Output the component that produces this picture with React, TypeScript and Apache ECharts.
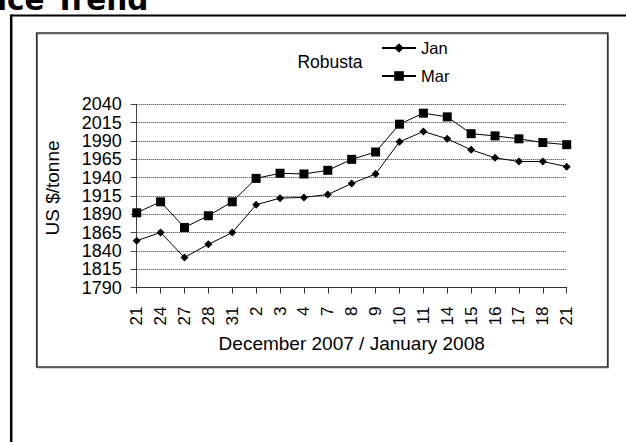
import React, { useEffect, useRef } from 'react';
import * as echarts from 'echarts';

const categories = ['21', '24', '27', '28', '31', '2', '3', '4', '7', '8', '9', '10', '11', '14', '15', '16', '17', '18', '21'];
const janValues = [1854, 1865, 1831, 1849, 1865, 1903, 1912, 1913, 1917, 1932, 1945, 1989, 2003, 1993, 1978, 1967, 1962, 1962, 1955];
const marValues = [1892, 1907, 1872, 1888, 1907, 1939, 1946, 1945, 1950, 1965, 1975, 2013, 2028, 2023, 2000, 1997, 1993, 1988, 1985];
const yMin = 1790;
const yMax = 2040;
const yStep = 25;

const titleText = 'ice Trend';
const legendTitle = 'Robusta';
const yName = 'US $/tonne';
const xName = 'December 2007 / January 2008';

export default function App() {
  const ref = useRef<HTMLDivElement>(null);
  useEffect(() => {
    const chart = echarts.init(ref.current as HTMLDivElement, null, { renderer: 'svg' });
    const font = "'Liberation Sans', Arial, sans-serif";
    chart.setOption({
      animation: false,
      backgroundColor: '#ffffff',
      grid: { left: 136.7, right: 59.3, top: 104.4, bottom: 154.5, containLabel: false },
      xAxis: {
        type: 'category',
        data: categories,
        boundaryGap: false,
        axisLine: { show: true, lineStyle: { color: '#333', width: 1 } },
        axisTick: { show: true, interval: 0, length: 6, lineStyle: { color: '#333' } },
        axisLabel: { interval: 0, rotate: 90, margin: 19, fontSize: 17, color: '#000', fontFamily: font },
        splitLine: { show: false },
        name: xName,
        nameLocation: 'middle',
        nameGap: 46,
        nameTextStyle: { fontSize: 19, color: '#000', fontFamily: font },
      },
      yAxis: {
        type: 'value',
        min: yMin,
        max: yMax,
        interval: yStep,
        axisLine: { show: true, lineStyle: { color: '#444', width: 1 } },
        axisTick: { show: true, length: 6, lineStyle: { color: '#444' } },
        axisLabel: {
          margin: 15, fontSize: 18, lineHeight: 17, color: '#000', fontFamily: font,
          showMinLabel: true, showMaxLabel: true, hideOverlap: false,
          formatter: (v: number) => String(v),
        },
        splitLine: { show: true, lineStyle: { color: '#333', type: [1, 1], width: 1 } },
      },
      legend: {
        orient: 'vertical',
        left: 381,
        top: 39.5,
        padding: 0,
        itemWidth: 34,
        itemHeight: 12,
        itemGap: 11,
        textStyle: { fontSize: 16.5, color: '#000', fontFamily: font },
        data: ['Jan', 'Mar'],
      },
      graphic: [
        {
          type: 'text', x: -3, y: 0, z: 10,
          style: { text: titleText, font: "bold 29.5px 'DejaVu Sans'", fill: '#000', align: 'left', verticalAlign: 'middle' },
        },
        { type: 'line', shape: { x1: 11.2, y1: 15.5, x2: 626, y2: 15.5 }, style: { stroke: '#000', lineWidth: 2 } },
        { type: 'line', shape: { x1: 11.2, y1: 14.5, x2: 11.2, y2: 442 }, style: { stroke: '#000', lineWidth: 2.5 } },
        { type: 'rect', shape: { x: 37.5, y: 34, width: 571, height: 334 }, style: { fill: 'none', stroke: '#aaa', lineWidth: 1 } },
        { type: 'rect', shape: { x: 36.7, y: 33, width: 571, height: 334 }, style: { fill: 'none', stroke: '#333', lineWidth: 1.6 } },
        {
          type: 'text', x: 330, y: 62,
          style: { text: legendTitle, fontSize: 17.5, fontFamily: font, fill: '#000', align: 'center', verticalAlign: 'middle' },
        },
        {
          type: 'text', x: 52, y: 188, rotation: Math.PI / 2,
          style: { text: yName, fontSize: 19, fontFamily: font, fill: '#000', align: 'center', verticalAlign: 'middle' },
        },
      ],
      series: [
        {
          name: 'Jan', type: 'line', data: janValues, symbol: 'diamond', symbolSize: 8,
          lineStyle: { color: '#000', width: 1 }, itemStyle: { color: '#000' },
        },
        {
          name: 'Mar', type: 'line', data: marValues, symbol: 'rect', symbolSize: 9,
          lineStyle: { color: '#000', width: 1 }, itemStyle: { color: '#000' },
        },
      ],
    });
    return () => chart.dispose();
  }, []);
  return <div ref={ref} style={{ position: 'fixed', left: 0, top: 0, width: 626, height: 442 }} />;
}
